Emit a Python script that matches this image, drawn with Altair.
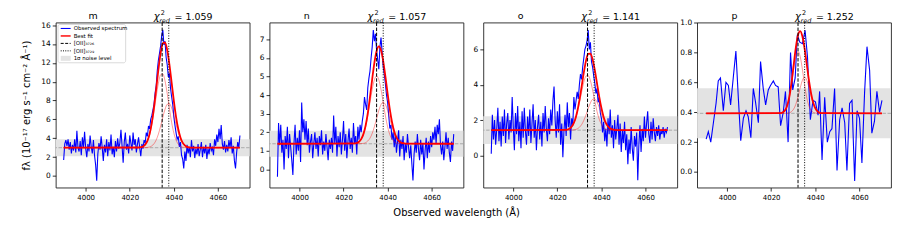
import altair as alt
import numpy as np
import pandas as pd

# ---------------- data ----------------
LETTERS = ["m", "n", "o", "p"]
CHI2 = ["1.059", "1.057", "1.141", "1.252"]
X_TICKS = [4000, 4020, 4040, 4060]
X_DOMAIN = [3986.4, 4074.4]
Y_DOMAINS = [[-1.23, 16.28], [-0.98, 7.91], [-1.82, 7.52], [-0.105, 1.002]]
Y_TICKS = [[0, 2, 4, 6, 8, 10, 12, 14, 16], [0, 1, 2, 3, 4, 5, 6, 7],
           [0, 2, 4, 6], [0.0, 0.2, 0.4, 0.6, 0.8, 1.0]]
Y_FORMATS = ["d", "d", "d", ".1f"]
CONT = [3.0, 1.38, 1.43, 0.393]          # continuum level
NOISE = [0.9, 0.70, 0.79, 0.168]         # 1 sigma noise
LINE_3726 = [4034.7, 4035.0, 4033.7, 4032.2]
LINE_3729 = [4037.7, 4038.0, 4036.7, 4035.2]

# spectra m, n, o are sampled every 0.5 A from 3990 to 4070
SPEC_START, SPEC_STEP = 3990.0, 0.5
SPEC_M = [1.7, 3.4, 3.8, 3.2, 3.9, 2.8, 3.6, 2.4, 3.3, 2.7,
          3.9, 2.5, 4.8, 3.0, 2.6, 3.7, 2.2, 4.1, 3.0, 4.7,
          2.9, 2.0, 3.4, 2.6, 4.3, 3.1, 2.4, 3.8, 2.2, 1.2,
          -0.5, 2.3, 3.5, 2.8, 4.2, 3.0, 1.6, 3.3, 2.5, 3.9,
          2.1, 3.6, 2.7, 4.4, 2.3, 3.1, 2.0, 3.7, 2.6, 4.0,
          2.9, 3.5, 4.9, 3.2, 1.4, 3.6, 4.6, 2.8, 3.4, 2.4,
          4.3, 3.5, 2.7, 4.6, 3.3, 3.9, 2.5, 3.4, 4.1, 3.0,
          2.1, 3.4, 2.9, 3.8, 3.5, 4.6, 4.2, 5.3, 5.0, 6.0,
          6.4, 7.0, 7.6, 8.8, 9.6, 11.2, 12.3, 13.0, 13.8, 14.9,
          15.5, 13.9, 14.3, 12.6, 11.8, 10.5, 10.9, 9.3, 8.4, 7.6,
          6.3, 5.4, 4.6, 3.9, 4.2, 3.1, 3.6, 2.2, 1.8, 0.8,
          2.6, 1.6, 3.3, 2.4, 3.1, 2.0, 3.8, 2.6, 3.2, 1.9,
          2.9, 2.3, 3.4, 2.1, 2.8, 3.6, 2.0, 3.1, 2.4, 3.3,
          1.8, 2.9, 2.3, 3.5, 2.7, 3.0, 2.2, 3.9, 3.2, 4.4,
          3.6, 5.0, 3.9, 5.4, 3.4, 2.8, 3.7, 2.5, 3.3, 2.6,
          3.8, 3.0, 4.1, 2.4, 3.2, 1.6, 0.8, 2.5, 3.6, 3.0,
          4.3]
SPEC_N = [-0.4, 2.5, 1.3, 2.4, 0.9, 1.6, 0.0, 1.8, 1.1, 2.3,
          0.6, 1.9, 1.2, 0.5, -0.3, 1.4, 2.4, 0.8, 1.7, 1.0,
          2.1, 0.4, 3.6, 2.0, 2.7, 1.6, 2.6, 1.3, 2.2, 0.9,
          1.5, 1.9, 0.6, 1.4, 2.0, 1.1, 1.7, 0.7, 1.8, 1.3,
          2.1, 0.8, 1.5, 1.0, 1.9, 1.2, 0.5, 1.6, 1.1, 1.7,
          0.9, 2.9, 1.4, 2.3, 0.7, 1.8, 1.2, 2.0, 0.8, 1.6,
          2.6, 1.0, 1.9, 0.6, 1.5, 2.2, 1.1, 1.7, 0.9, 2.5,
          1.4, 1.8, 0.8, 2.3, 1.6, 2.4, 2.0, 2.6, 3.0, 3.9,
          3.5, 3.2, 4.4, 4.9, 5.3, 6.0, 6.6, 7.5, 6.9, 7.3,
          6.4, 5.9, 5.4, 6.6, 7.1, 6.3, 5.5, 5.1, 4.6, 4.0,
          3.6, 2.9, 2.2, 2.4, 1.6, 2.0, 1.2, 1.9, 0.9, 1.5,
          2.1, 0.7, 1.6, 1.1, 1.8, 0.5, 1.4, 0.9, 1.9, 1.2,
          0.6, 1.3, 0.3, -0.6, 0.8, 1.5, 0.9, 1.9, 1.1, 0.5,
          1.6, 0.8, 1.4, 0.0, 1.0, 1.7, 0.6, 1.5, 0.9, 1.8,
          1.2, 2.0, 1.6, 2.3, 1.4, 2.4, 1.9, 2.7, 1.3, 0.8,
          1.5, 0.5, 1.2, 2.0, 1.1, 1.7, 0.9, 0.4, 1.5, 1.0,
          1.9]
SPEC_O = [0.1, 2.3, 0.9, 2.0, 0.6, 1.5, 2.7, 0.8, 1.9, 0.5,
          2.2, 1.1, 2.6, 0.7, 1.8, 2.4, 0.9, 2.0, 1.3, 3.3,
          1.6, 0.3, 2.4, 1.2, 2.8, 0.8, 1.9, 0.4, 2.5, 1.0,
          2.7, 1.4, 0.6, 2.2, 1.1, 2.6, 0.7, 1.8, 2.9, 1.0,
          2.0, 0.3, 1.6, 2.3, 0.9, 1.9, 0.5, 2.4, 1.3, 2.8,
          1.5, 0.8, 2.1, 1.2, 2.6, 1.7, 3.1, 3.9, 2.0, 1.0,
          2.5, 1.3, 2.9, 0.6, 1.8, -0.1, 1.4, 2.3, 1.1, 3.0,
          1.6, 2.4, 0.9, 2.1, 1.7, 3.3, 2.6, 3.1, 3.6, 3.2,
          4.0, 4.6, 4.3, 5.0, 5.5, 6.0, 6.2, 6.5, 7.1, 6.0,
          6.4, 5.3, 5.0, 4.5, 4.1, 3.5, 3.8, 3.0, 3.3, 2.4,
          2.1, 1.3, 1.9, 0.8, 1.5, 0.5, 2.1, 1.2, 2.6, 1.0,
          1.7, 0.4, 2.0, 0.9, 1.5, 2.3, 0.6, 1.8, 0.2, 1.4,
          0.7, 1.9, 0.3, 1.2, -0.5, 0.9, 0.1, 1.6, 0.4, -0.3,
          1.1, 0.5, 1.3, -1.4, 0.6, 1.7, 0.2, 1.5, 0.8, 2.2,
          1.0, 1.8, 2.5, 1.2, 0.7, 1.9, 0.9, 2.1, 1.3, 0.8,
          1.6, 1.1, 1.7, 0.9, 1.4, 1.2, 1.6, 1.0, 1.5, 1.3,
          1.6]
SPEC_P_W = [3990.5, 3991.5, 3992.6, 3993.8, 3995.0, 3996.0, 3997.0, 3998.3, 3999.5, 4000.6,
            4001.6, 4002.8, 4004.0, 4005.1, 4006.2, 4007.4, 4008.6, 4009.6, 4010.8, 4011.9,
            4012.9, 4014.2, 4015.2, 4016.4, 4017.5, 4018.7, 4019.7, 4021.0, 4022.0, 4023.2,
            4024.3, 4025.5, 4026.5, 4027.7, 4028.8, 4029.8, 4030.9, 4031.9, 4033.0, 4034.2,
            4035.4, 4036.5, 4037.8, 4039.0, 4040.1, 4041.3, 4042.0, 4043.1, 4044.3, 4045.5,
            4046.6, 4047.6, 4048.8, 4049.9, 4051.1, 4052.2, 4053.4, 4054.4, 4055.6, 4056.7,
            4057.9, 4059.0, 4060.1, 4061.2, 4062.4, 4063.5, 4064.7, 4065.7, 4066.9, 4068.0,
            4069.2, 4070.3]
SPEC_P = [0.22, 0.27, 0.20, 0.33, 0.46, 0.61, 0.63, 0.41, 0.60, 0.58,
          0.45, 0.63, 0.81, 0.50, 0.21, 0.36, 0.41, 0.37, 0.23, 0.56,
          0.47, 0.33, 0.74, 0.56, 0.45, 0.55, 0.58, 0.61, 0.58, 0.57,
          0.31, 0.40, 0.54, 0.20, 0.80, 0.55, 0.63, 0.92, 0.87, 0.86,
          0.95, 0.77, 0.35, 0.48, 0.47, 0.38, 0.54, 0.08, 0.50, 0.20,
          0.27, 0.29, 0.56, 0.01, 0.35, 0.43, 0.33, 0.01, 0.46, 0.48,
          -0.06, 0.41, 0.36, 0.06, 0.53, 0.84, 0.68, 0.26, 0.34, 0.54,
          0.40, 0.48]

# best fit (total) and the two [OII] components
FIT_M_W = [3990, 4024, 4025, 4026, 4027, 4028, 4029, 4030, 4031, 4032, 4033, 4034, 4035,
           4036, 4037, 4038, 4039, 4040, 4041, 4042, 4043, 4044, 4045, 4046, 4047, 4048, 4070]
FIT_M = [3.00, 3.02, 3.05, 3.13, 3.33, 3.73, 4.46, 5.63, 7.27, 9.25, 11.30, 13.03, 14.06,
         14.16, 13.35, 11.82, 9.91, 7.97, 6.28, 4.98, 4.09, 3.54, 3.25, 3.09, 3.03, 3.01, 3.00]
COMP1_M = [3.00, 3.02, 3.05, 3.13, 3.32, 3.70, 4.38, 5.44, 6.85, 8.43, 9.85, 10.74, 10.83,
           10.09, 8.74, 7.16, 5.69, 4.56, 3.81, 3.38, 3.16, 3.06, 3.02, 3.00, 3.00, 3.00, 3.00]
COMP2_M = [3.00, 3.00, 3.00, 3.00, 3.01, 3.03, 3.08, 3.19, 3.42, 3.82, 4.45, 5.29, 6.23,
           7.07, 7.61, 7.66, 7.22, 6.41, 5.47, 4.60, 3.93, 3.48, 3.23, 3.09, 3.03, 3.01, 3.00]

FIT_N_W = [3990, 4025, 4026, 4027, 4028, 4029, 4030, 4031, 4032, 4033, 4034, 4035, 4036,
           4037, 4038, 4039, 4040, 4041, 4042, 4043, 4044, 4045, 4046, 4047, 4048, 4070]
FIT_N = [1.38, 1.40, 1.42, 1.49, 1.63, 1.90, 2.35, 3.03, 3.90, 4.86, 5.75, 6.38, 6.62,
         6.41, 5.83, 4.99, 4.08, 3.23, 2.54, 2.04, 1.72, 1.54, 1.45, 1.41, 1.39, 1.38]
COMP1_N = [1.38, 1.39, 1.42, 1.49, 1.62, 1.87, 2.29, 2.88, 3.60, 4.30, 4.83, 5.03, 4.83,
           4.30, 3.60, 2.88, 2.29, 1.87, 1.62, 1.49, 1.42, 1.39, 1.38, 1.38, 1.38, 1.38]
COMP2_N = [1.38, 1.38, 1.38, 1.38, 1.39, 1.40, 1.44, 1.53, 1.68, 1.94, 2.30, 2.73, 3.17,
           3.49, 3.61, 3.49, 3.17, 2.73, 2.30, 1.94, 1.68, 1.53, 1.44, 1.40, 1.39, 1.38]

FIT_O_W = [3990, 4023, 4024, 4025, 4026, 4027, 4028, 4029, 4030, 4031, 4032, 4033, 4034,
           4035, 4036, 4037, 4038, 4039, 4040, 4041, 4042, 4043, 4044, 4045, 4046, 4047, 4070]
FIT_O = [1.43, 1.44, 1.45, 1.48, 1.56, 1.72, 2.00, 2.47, 3.11, 3.88, 4.68, 5.35, 5.74,
         5.76, 5.43, 4.83, 4.08, 3.33, 2.68, 2.18, 1.84, 1.64, 1.52, 1.47, 1.44, 1.43, 1.43]
COMP1_O = [1.43, 1.44, 1.45, 1.48, 1.56, 1.71, 1.98, 2.39, 2.95, 3.57, 4.14, 4.49, 4.52,
           4.23, 3.70, 3.07, 2.49, 2.05, 1.75, 1.58, 1.49, 1.45, 1.44, 1.43, 1.43, 1.43, 1.43]
COMP2_O = [1.43, 1.43, 1.43, 1.43, 1.43, 1.44, 1.46, 1.50, 1.59, 1.74, 1.98, 2.29, 2.65,
           2.97, 3.17, 3.18, 3.02, 2.72, 2.36, 2.03, 1.78, 1.61, 1.52, 1.47, 1.44, 1.43, 1.43]

FIT_P_W = [3990.5, 4024.2, 4025.2, 4026.2, 4027.2, 4028.2, 4029.2, 4030.2, 4031.2, 4032.2,
           4033.2, 4034.2, 4035.2, 4036.2, 4037.2, 4038.2, 4039.2, 4040.2, 4041.2, 4042.2,
           4043.2, 4070.3]
FIT_P = [0.393, 0.395, 0.399, 0.411, 0.441, 0.499, 0.594, 0.714, 0.833, 0.918, 0.944,
         0.908, 0.825, 0.718, 0.611, 0.522, 0.459, 0.423, 0.404, 0.396, 0.394, 0.393]
COMP1_P = [0.393, 0.395, 0.399, 0.411, 0.440, 0.496, 0.583, 0.686, 0.773, 0.807, 0.773,
           0.686, 0.583, 0.496, 0.440, 0.411, 0.399, 0.395, 0.393, 0.393, 0.393, 0.393]
COMP2_P = [0.393, 0.393, 0.393, 0.393, 0.394, 0.396, 0.404, 0.421, 0.453, 0.504, 0.564,
           0.615, 0.635, 0.615, 0.564, 0.504, 0.453, 0.421, 0.404, 0.396, 0.394, 0.393]

LEGEND_LABELS = ["Observed spectrum", "Best fit", "[OII]\u2083\u2087\u2082\u2086",
                 "[OII]\u2083\u2087\u2082\u2089", "1\u03c3 noise level"]

Y_TITLE = "f\u03bb (10\u207b\u00b9\u2077 erg s\u207b\u00b9 cm\u207b\u00b2 \u00c5\u207b\u00b9)"
X_TITLE = "Observed wavelength (\u00c5)"

# ---------------- chart ----------------
FONT = "DejaVu Sans"
W, H = 195, 166

spec_grid = list(np.round(np.arange(SPEC_START, 4070.0 + 1e-6, SPEC_STEP), 2))
SPECTRA = [(spec_grid, SPEC_M), (spec_grid, SPEC_N), (spec_grid, SPEC_O), (SPEC_P_W, SPEC_P)]
FITS = [(FIT_M_W, FIT_M, COMP1_M, COMP2_M), (FIT_N_W, FIT_N, COMP1_N, COMP2_N),
        (FIT_O_W, FIT_O, COMP1_O, COMP2_O), (FIT_P_W, FIT_P, COMP1_P, COMP2_P)]

one = pd.DataFrame({"a": [0]})


def txt(s, x, y, size, align="left", style="normal", baseline="alphabetic"):
    return alt.Chart(one).mark_text(
        text=s, font=FONT, fontSize=size, fontStyle=style, align=align,
        baseline=baseline, color="black"
    ).encode(x=alt.value(x), y=alt.value(y))


def panel(i):
    xs = alt.Scale(domain=X_DOMAIN, nice=False, zero=False)
    ys = alt.Scale(domain=Y_DOMAINS[i], nice=False, zero=False)
    xax = alt.Axis(values=X_TICKS, title=None, format="d", labelFontSize=7,
                   labelFont=FONT, tickSize=3.5, labelPadding=2)
    yax = alt.Axis(values=Y_TICKS[i], format=Y_FORMATS[i], labelFontSize=7.5,
                   labelFont=FONT, tickSize=3.5, labelPadding=2,
                   title=Y_TITLE if i == 0 else None, titleFontSize=10,
                   titleFont=FONT, titleFontWeight="normal", titlePadding=9)
    X = alt.X("w:Q", scale=xs, axis=xax)
    Y = lambda f: alt.Y(f, scale=ys, axis=yax)

    sw, sf = SPECTRA[i]
    spec = pd.DataFrame({"w": sw, "f": sf})
    fw, ft, c1, c2 = FITS[i]
    fit = pd.DataFrame({"w": fw, "fit": ft, "c1": c1, "c2": c2})
    band = pd.DataFrame({"lo": [CONT[i] - NOISE[i]], "hi": [CONT[i] + NOISE[i]],
                         "c": [CONT[i]]})
    lines = pd.DataFrame({"w": [LINE_3726[i], LINE_3729[i]], "k": ["a", "b"]})

    layers = [
        alt.Chart(band).mark_rect(color="#e3e3e3").encode(y=Y("lo:Q"), y2="hi:Q"),
        alt.Chart(band).mark_rule(color="#9a9a9a", strokeWidth=0.8, strokeDash=[3.5, 1.6])
        .encode(y=Y("c:Q")),
        alt.Chart(spec).mark_line(color="#0000ff", strokeWidth=1.1, clip=True)
        .encode(x=X, y=Y("f:Q")),
        alt.Chart(fit).mark_line(color="#ff0000", strokeWidth=1.8, interpolate="monotone")
        .encode(x=X, y=Y("fit:Q")),
        alt.Chart(fit).mark_line(color="#ff0000", opacity=0.4, strokeWidth=1.0,
                                 interpolate="monotone").encode(x=X, y=Y("c1:Q")),
        alt.Chart(fit).mark_line(color="#ff0000", opacity=0.4, strokeWidth=1.0,
                                 interpolate="monotone").encode(x=X, y=Y("c2:Q")),
        alt.Chart(lines[lines.k == "a"]).mark_rule(color="black", strokeWidth=1,
                                                   strokeDash=[3.5, 1.6]).encode(x=X),
        alt.Chart(lines[lines.k == "b"]).mark_rule(color="black", strokeWidth=1,
                                                   strokeDash=[1, 1.6]).encode(x=X),
        # panel titles
        txt(LETTERS[i], 37.5, -4, 9.5, align="center"),
        txt("\u03c7", 98.5, -3, 10, style="italic"),
        txt("2", 105.5, -8, 6.5),
        txt("red", 104, 0, 6.5, style="italic"),
        txt("= " + CHI2[i], 119.5, -3, 9.5),
    ]

    if i == 0:
        rows = [6, 13.5, 21, 28.5, 36]
        layers += [
            alt.Chart(one).mark_rect(fill="white", stroke="#cccccc", strokeWidth=0.8,
                                     cornerRadius=2, opacity=0.9)
            .encode(x=alt.value(2.3), x2=alt.value(70.3), y=alt.value(2), y2=alt.value(40.5)),
            alt.Chart(one).mark_rule(color="#0000ff", strokeWidth=1.1)
            .encode(x=alt.value(5), x2=alt.value(15), y=alt.value(rows[0])),
            alt.Chart(one).mark_rule(color="#ff0000", strokeWidth=1.8, opacity=0.8)
            .encode(x=alt.value(5), x2=alt.value(15), y=alt.value(rows[1])),
            alt.Chart(one).mark_rule(color="black", strokeWidth=1, strokeDash=[3, 1.5])
            .encode(x=alt.value(5), x2=alt.value(15), y=alt.value(rows[2])),
            alt.Chart(one).mark_rule(color="black", strokeWidth=1, strokeDash=[1, 1.3])
            .encode(x=alt.value(5), x2=alt.value(15), y=alt.value(rows[3])),
            alt.Chart(one).mark_rect(color="#e3e3e3")
            .encode(x=alt.value(5), x2=alt.value(15), y=alt.value(rows[4] - 2.5),
                    y2=alt.value(rows[4] + 2.5)),
        ]
        for lab, yy in zip(LEGEND_LABELS, rows):
            layers.append(txt(lab, 18, yy, 5.5, baseline="middle"))

    return alt.layer(*layers).properties(width=W, height=H)


chart = alt.hconcat(*[panel(i) for i in range(4)], spacing=20, bounds="flush").properties(
    title=alt.TitleParams(X_TITLE, orient="bottom", anchor="middle", fontSize=10,
                          font=FONT, fontWeight="normal", color="black", offset=8),
    padding={"left": 13, "top": 0, "right": 0, "bottom": 0},
).configure_view(stroke="#222222", strokeWidth=0.9).configure_axis(
    grid=False, domain=False, tickColor="black", tickWidth=0.8,
    labelColor="black", titleColor="black"
)

chart.save("out.html", embed_options={"renderer": "svg", "actions": False})
